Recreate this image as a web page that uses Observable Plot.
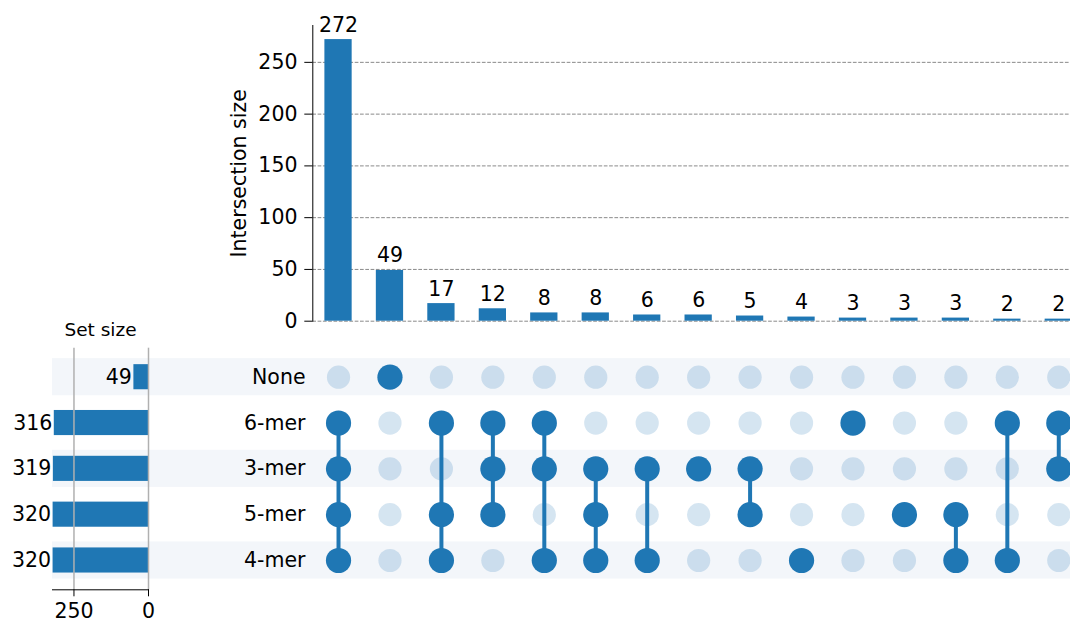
<!DOCTYPE html>
<html>
<head>
<meta charset="utf-8">
<script src="https://cdn.jsdelivr.net/npm/d3@7"></script>
<script src="https://cdn.jsdelivr.net/npm/@observablehq/plot@0.6"></script>
<style>
  html, body { margin: 0; padding: 0; background: #fff; }
  #chart { position: relative; width: 1070px; height: 621px; overflow: hidden; }
  #chart svg { position: absolute; left: 0; top: 0; }
</style>
</head>
<body>
<div id="chart"></div>
<script>
// Sets, listed top to bottom in the matrix
const sets = ["None", "6-mer", "3-mer", "5-mer", "4-mer"];
const setSizes = [49, 316, 319, 320, 320];

// Intersections, ordered by size
const intersectionSizes = [272, 49, 17, 12, 8, 8, 6, 6, 5, 4, 3, 3, 3, 2, 2];
const memberships = [
  ["6-mer", "3-mer", "5-mer", "4-mer"],
  ["None"],
  ["6-mer", "5-mer", "4-mer"],
  ["6-mer", "3-mer", "5-mer"],
  ["6-mer", "3-mer", "4-mer"],
  ["3-mer", "5-mer", "4-mer"],
  ["3-mer", "4-mer"],
  ["3-mer"],
  ["3-mer", "5-mer"],
  ["4-mer"],
  ["6-mer"],
  ["5-mer"],
  ["5-mer", "4-mer"],
  ["6-mer", "4-mer"],
  ["6-mer", "3-mer"]
];

const intersectionTicks = [0, 50, 100, 150, 200, 250];
const setSizeTicks = [0, 250];

// Derived tables
const columns = intersectionSizes.map((size, i) => ({col: i, size}));
const colDomain = columns.map(d => d.col);
const cells = [];
columns.forEach(({col}) => {
  sets.forEach(set => cells.push({col, set, member: memberships[col].includes(set)}));
});
const links = columns
  .map(({col}) => {
    const idx = memberships[col].map(s => sets.indexOf(s)).sort((a, b) => a - b);
    return {col, top: sets[idx[0]], bottom: sets[idx[idx.length - 1]], n: idx.length};
  })
  .filter(d => d.n > 1);
const setRows = sets.map((set, i) => ({set, size: setSizes[i]}));
const shadedRows = sets.filter((s, i) => i % 2 === 0);

const blue = "#1f77b4";
const W = 1084, H = 621;
const baseStyle = {
  background: "transparent",
  maxWidth: "none",
  overflow: "visible",
  fontFamily: "'DejaVu Sans', sans-serif",
  fontSize: "20.5px",
  color: "black"
};
const rowScale = {type: "band", domain: sets, paddingInner: 0.19, paddingOuter: 0.095, round: false, axis: null};

// Membership matrix with alternating row shading and set names
const matrix = Plot.plot({
  width: W, height: H,
  marginLeft: 52, marginRight: 0, marginTop: 353.8, marginBottom: 38.1,
  style: baseStyle,
  x: {type: "band", domain: colDomain, insetLeft: 260.3, padding: 0, round: false, axis: null},
  y: rowScale,
  marks: [
    Plot.cell(shadedRows, {y: d => d, fill: "#f3f6fa"}),
    Plot.dot(cells, {x: "col", y: "set", r: 11.6, fill: blue, fillOpacity: 0.19}),
    Plot.link(links, {x1: "col", x2: "col", y1: "top", y2: "bottom", stroke: blue, strokeWidth: 4}),
    Plot.dot(cells.filter(d => d.member), {x: "col", y: "set", r: 12.6, fill: blue}),
    Plot.text(sets, {y: d => d, text: d => d, frameAnchor: "left", dx: 253, textAnchor: "end"})
  ]
});

// Set size bars, growing to the left
const setPlot = Plot.plot({
  width: 160, height: H,
  marginLeft: 52, marginRight: 12, marginTop: 347.7, marginBottom: 31.7,
  style: baseStyle,
  x: {domain: [0, 322], reverse: true},
  y: {...rowScale, insetTop: 6.1, insetBottom: 6.4},
  marks: [
    Plot.barX(setRows, {x: "size", y: "set", fill: blue, insetTop: 6, insetBottom: 6}),
    Plot.gridX({ticks: setSizeTicks, stroke: "#b0b0b0", strokeOpacity: 1, strokeWidth: 1.5}),
    Plot.text(setRows, {x: "size", y: "set", text: "size", textAnchor: "end", dx: -2}),
    Plot.frame({anchor: "bottom"}),
    Plot.axisX({ticks: setSizeTicks, tickSize: 7, tickPadding: 6.5, label: null}),
    Plot.text(["Set size"], {frameAnchor: "top", lineAnchor: "bottom", dy: -12, fontSize: 18.5})
  ]
});

// Intersection size bars
const topPlot = Plot.plot({
  width: W, height: H,
  marginLeft: 312.3, marginRight: 0, marginTop: 25, marginBottom: 300.3,
  style: baseStyle,
  x: {type: "band", domain: colDomain, paddingInner: 0.47, paddingOuter: 0.235, round: false, axis: null},
  y: {domain: [0, 285.6]},
  marks: [
    Plot.gridY({ticks: intersectionTicks, stroke: "#8a8a8a", strokeOpacity: 1, strokeDasharray: "3.7,1.6"}),
    Plot.barY(columns, {x: "col", y: "size", fill: blue}),
    Plot.text(columns, {x: "col", y: "size", text: "size", lineAnchor: "bottom", dy: -8}),
    Plot.axisY({ticks: intersectionTicks, tickSize: 8, tickPadding: 7.3, label: null}),
    Plot.frame({anchor: "left"}),
    Plot.text(["Intersection size"], {frameAnchor: "left", textAnchor: "middle", rotate: -90, dx: -73})
  ]
});

const chart = document.getElementById("chart");
chart.append(matrix, setPlot, topPlot);
</script>
</body>
</html>
